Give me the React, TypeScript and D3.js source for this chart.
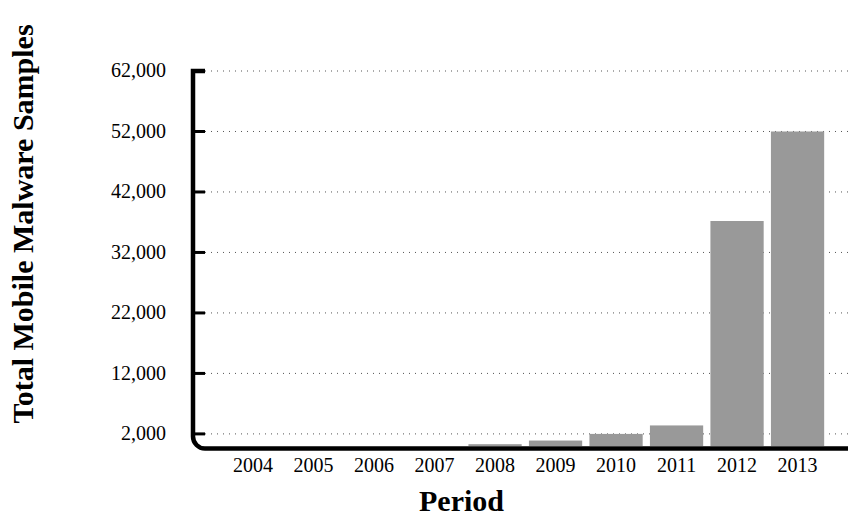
import React from "react";
import * as d3 from "d3";

const years = ["2004", "2005", "2006", "2007", "2008", "2009", "2010", "2011", "2012", "2013"];
const samples = [0, 0, 0, 0, 300, 900, 2000, 3400, 37200, 52000];
const yTicks = [2000, 12000, 22000, 32000, 42000, 52000, 62000];
const xTitle = "Period";
const yTitle = "Total Mobile Malware Samples";

const W = 848;
const H = 516;
const FONT = "'Liberation Serif', 'Times New Roman', serif";

export default function App() {
  const axisX = 193;
  const gridStart = 205;
  const y = d3.scaleLinear().domain([0, 62000]).range([446, 71]);
  const x = d3.scaleBand().domain(years).range([222.8, 827.8]).paddingInner(0.12).paddingOuter(0.06);
  const fmt = d3.format(",");
  const axisY = y(0) + 2.5;
  const r = 12;
  const axisPath = `M${gridStart},${y(62000)} L${axisX},${y(62000)} L${axisX},${axisY - r} A${r},${r} 0 0 0 ${axisX + r},${axisY} L${W},${axisY}`;

  return (
    <svg width={W} height={H} style={{ position: "absolute", left: 0, top: 0 }}>
      <rect width={W} height={H} fill="#fff" />
      {yTicks.map((t) => (
        <line key={"g" + t} x1={gridStart} x2={W} y1={y(t)} y2={y(t)} stroke="#555" strokeWidth={1} strokeDasharray="1 5" />
      ))}
      {years.map((yr, i) => (
        <rect key={yr} x={x(yr)} width={x.bandwidth()} y={y(samples[i])} height={y(0) - y(samples[i])} fill="#999999" />
      ))}
      {yTicks.map((t) => (
        <line key={"t" + t} x1={axisX} x2={gridStart} y1={y(t)} y2={y(t)} stroke="#000" strokeWidth={3} />
      ))}
      <path d={axisPath} fill="none" stroke="#000" strokeWidth={4.5} />
      {yTicks.map((t) => (
        <text key={"l" + t} x={166} y={y(t)} dy="0.32em" textAnchor="end" fontFamily={FONT} fontSize={20}>
          {fmt(t)}
        </text>
      ))}
      {years.map((yr) => (
        <text key={"x" + yr} x={(x(yr) as number) + x.bandwidth() / 2} y={471.5} textAnchor="middle" fontFamily={FONT} fontSize={20}>
          {yr}
        </text>
      ))}
      <text x={461.5} y={511} textAnchor="middle" fontFamily={FONT} fontSize={30} fontWeight="bold">
        {xTitle}
      </text>
      <text transform={`translate(33,224) rotate(-90)`} textAnchor="middle" fontFamily={FONT} fontSize={30} fontWeight="bold">
        {yTitle}
      </text>
    </svg>
  );
}
